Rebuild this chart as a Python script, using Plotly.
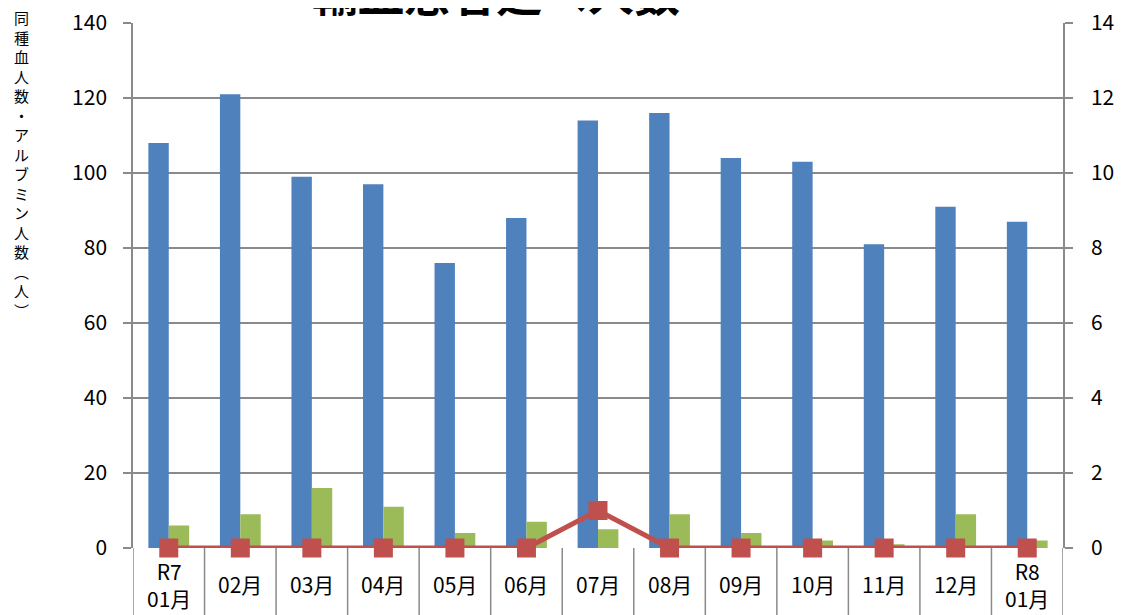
import plotly.graph_objects as go

categories = ["R7<br>01月", "02月", "03月", "04月", "05月", "06月", "07月",
              "08月", "09月", "10月", "11月", "12月", "R8<br>01月"]
allogeneic = [108, 121, 99, 97, 76, 88, 114, 116, 104, 103, 81, 91, 87]
albumin = [6, 9, 16, 11, 4, 7, 5, 9, 4, 2, 1, 9, 2]
autologous = [0, 0, 0, 0, 0, 0, 1, 0, 0, 0, 0, 0, 0]
left_ticks = [0, 20, 40, 60, 80, 100, 120, 140]
right_ticks = [0, 2, 4, 6, 8, 10, 12, 14]
title_text = "輸血患者延べ人数"
y_title_chars = ["同", "種", "血", "人", "数", "・", "ア", "ル", "ブ", "ミ", "ン", "人", "数", "︵", "人", "︶"]

FONT = "Noto Sans CJK JP"
GRID = "#8a8a8a"
W, H = 1122, 615
OFF = 8                      # page body margin
PLOT_L, PLOT_R, PLOT_T, PLOT_B = 133, 1063, 23, 548   # plot area in window pixels
PW = PLOT_R - PLOT_L
PH = PLOT_B - PLOT_T
ML = PLOT_L - OFF
MT = PLOT_T - OFF
MR = W - ML - PW
MB = H - MT - PH


def px(vx):
    return (vx - PLOT_L) / PW


def py(vy):
    return (PLOT_B - vy) / PH


x_idx = list(range(len(categories)))

fig = go.Figure()
fig.add_trace(go.Bar(x=x_idx, y=allogeneic, marker=dict(color="#4F81BD", line=dict(width=0)),
                     name="同種血", yaxis="y"))
fig.add_trace(go.Bar(x=x_idx, y=albumin, marker=dict(color="#9BBB59", line=dict(width=0)),
                     name="アルブミン", yaxis="y"))
fig.add_trace(go.Scatter(x=x_idx, y=autologous, mode="lines+markers", yaxis="y2",
                         line=dict(color="#C0504D", width=5),
                         marker=dict(symbol="square", size=19, color="#C0504D"),
                         cliponaxis=False, name="自己血"))

# category separators below the axis
shapes = []
for i in range(len(categories) + 1):
    shapes.append(dict(type="line", xref="x", yref="paper", x0=i - 0.5, x1=i - 0.5,
                       y0=0, y1=py(625), line=dict(color=GRID, width=1.5), layer="below"))
# chart border on the right
shapes.append(dict(type="line", xref="paper", yref="paper", x0=px(1116), x1=px(1116),
                   y0=py(625), y1=py(-10), line=dict(color="#a0a0a0", width=1)))

annotations = []
for i, c in enumerate(categories):
    annotations.append(dict(x=i, xref="x", y=py(584), yref="paper",
                            text=c, showarrow=False, yanchor="middle", xanchor="center",
                            font=dict(family=FONT, size=21, color="#000")))
annotations.append(dict(x=px(496), xref="paper", y=py(-9), yref="paper",
                        text="<b>" + title_text + "</b>", showarrow=False,
                        xanchor="center", yanchor="middle",
                        font=dict(family=FONT, size=46, color="#000")))
annotations.append(dict(x=px(21), xref="paper", y=py(164), yref="paper",
                        text="<br>".join(y_title_chars), showarrow=False,
                        xanchor="center", yanchor="middle", align="center",
                        font=dict(family=FONT, size=15, color="#000")))

fig.update_layout(
    width=W, height=H,
    margin=dict(l=ML, r=MR, t=MT, b=MB, autoexpand=False),
    paper_bgcolor="white", plot_bgcolor="white",
    showlegend=False,
    barmode="group", bargap=0.43, bargroupgap=0,
    font=dict(family=FONT, color="#000"),
    xaxis=dict(range=[-0.5, len(categories) - 0.5], showticklabels=False, ticks="",
               showgrid=False, zeroline=False, showline=False, fixedrange=True),
    yaxis=dict(range=[0, 140], tickvals=left_ticks, showgrid=True, gridcolor=GRID, gridwidth=1.5,
               ticks="outside", ticklen=8, tickcolor=GRID, tickwidth=1.5, automargin=False,
               showline=True, linecolor=GRID, linewidth=1.5, zeroline=False,
               ticklabeloverflow="allow",
               tickfont=dict(family=FONT, size=21, color="#000"), ticklabelstandoff=12),
    yaxis2=dict(range=[0, 14], tickvals=right_ticks, overlaying="y", side="right",
                showgrid=False, ticks="outside", ticklen=8, tickcolor=GRID, tickwidth=1.5,
                showline=True, linecolor=GRID, linewidth=1.5, zeroline=False, automargin=False,
                ticklabeloverflow="allow",
                tickfont=dict(family=FONT, size=21, color="#000"), ticklabelstandoff=14),
    shapes=shapes,
    annotations=annotations,
)

fig.write_html("out.html")
